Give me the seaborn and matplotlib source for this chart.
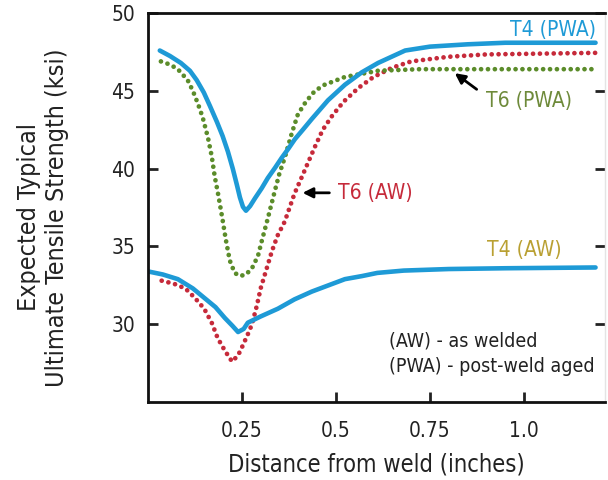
import matplotlib
matplotlib.use("Agg")
import matplotlib.pyplot as plt
from matplotlib import font_manager
import seaborn as sns

# values
t4_pwa_x = [0.032, 0.059, 0.088, 0.112, 0.130, 0.149, 0.165, 0.184, 0.199, 0.213, 0.226,
            0.237, 0.245, 0.253, 0.261, 0.272, 0.285, 0.303, 0.319, 0.338, 0.356, 0.374,
            0.391, 0.412, 0.436, 0.479, 0.524, 0.569, 0.612, 0.684, 0.75, 0.85, 0.95,
            1.05, 1.19]
t4_pwa_y = [47.6, 47.25, 46.8, 46.3, 45.7, 44.9, 44.05, 43.0, 42.1, 41.1, 40.0,
            38.95, 38.15, 37.55, 37.3, 37.6, 38.1, 38.75, 39.4, 40.05, 40.7, 41.3,
            41.9, 42.5, 43.2, 44.4, 45.4, 46.2, 46.8, 47.6, 47.85, 48.0, 48.1,
            48.1, 48.1]

t6_pwa_x = [0.035, 0.059, 0.080, 0.106, 0.120, 0.133, 0.146, 0.160, 0.170, 0.178, 0.186,
            0.194, 0.199, 0.207, 0.218, 0.231, 0.245, 0.261, 0.277, 0.293, 0.303, 0.319,
            0.338, 0.350, 0.364, 0.383, 0.399, 0.420, 0.444, 0.470, 0.524, 0.612, 0.723,
            1.19]
t6_pwa_y = [46.9, 46.7, 46.4, 45.7, 45.0, 44.2, 43.3, 42.0, 40.8, 39.5, 38.5,
            37.4, 36.7, 35.5, 34.1, 33.3, 33.1, 33.2, 33.6, 34.4, 35.35, 36.8,
            38.6, 39.7, 40.7, 42.3, 43.5, 44.3, 45.0, 45.4, 45.9, 46.3, 46.4,
            46.4]

t6_aw_x = [0.037, 0.07, 0.10, 0.125, 0.15, 0.17, 0.186, 0.205, 0.224, 0.24, 0.25, 0.265,
           0.277, 0.29, 0.30, 0.315, 0.33, 0.345, 0.364, 0.39, 0.41, 0.444, 0.465, 0.49,
           0.52, 0.56, 0.60, 0.65, 0.70, 0.80, 0.90, 1.19]
t6_aw_y = [32.8, 32.6, 32.3, 31.7, 31.0, 30.1, 29.1, 28.3, 27.6, 28.0, 28.5, 29.3,
           30.0, 31.2, 32.3, 33.5, 34.7, 35.7, 36.6, 38.4, 39.5, 41.4, 42.5, 43.4,
           44.3, 45.2, 45.9, 46.5, 46.9, 47.2, 47.35, 47.45]

t4_aw_x = [0.0, 0.04, 0.08, 0.12, 0.15, 0.18, 0.205, 0.225, 0.24, 0.255, 0.266, 0.30,
           0.346, 0.39, 0.436, 0.48, 0.524, 0.57, 0.61, 0.68, 0.80, 0.95, 1.19]
t4_aw_y = [33.4, 33.2, 32.9, 32.3, 31.7, 31.1, 30.4, 29.9, 29.5, 29.7, 30.1, 30.5,
           31.0, 31.6, 32.1, 32.5, 32.9, 33.1, 33.3, 33.45, 33.55, 33.6, 33.65]

x_ticks = [0.25, 0.5, 0.75, 1.0]
x_tick_labels = ["0.25", "0.5", "0.75", "1.0"]
y_ticks = [30, 35, 40, 45, 50]

blue = "#1e9ad6"
green = "#5b8c2a"
red = "#c62a3a"

sns.set_style("ticks")

# the reference uses a condensed sans; take one if the machine has it
narrow = [f for f in font_manager.fontManager.ttflist
          if ('Narrow' in f.name or 'Condensed' in f.name or f.stretch == 'condensed')
          and f.style == 'normal']
if narrow:
    plt.rcParams['font.family'] = [narrow[0].name, 'DejaVu Sans']
    plt.rcParams['font.stretch'] = narrow[0].stretch
else:
    plt.rcParams['font.family'] = ['Liberation Sans', 'DejaVu Sans']

fig = plt.figure(figsize=(6.08, 4.8), dpi=100)
ax = fig.add_axes([0.243, 0.1625, 0.752, 0.81])

dots = dict(lw=3.4, linestyle=(0, (0.01, 1.45)), dash_capstyle='round')

sns.lineplot(x=t6_aw_x, y=t6_aw_y, color=red, ax=ax, **dots)
sns.lineplot(x=t6_pwa_x, y=t6_pwa_y, color=green, ax=ax, **dots)
sns.lineplot(x=t4_aw_x, y=t4_aw_y, color=blue, lw=3.3, ax=ax)
sns.lineplot(x=t4_pwa_x, y=t4_pwa_y, color=blue, lw=3.3, ax=ax)

ax.set_xlim(0, 1.215)
ax.set_ylim(25, 50)
ax.set_xticks(x_ticks)
ax.set_xticklabels(x_tick_labels)
ax.set_yticks(y_ticks)
ax.tick_params(direction='in', length=7, width=2, labelsize=15, colors='#222222',
               pad=14, right=True)
ax.tick_params(axis='y', pad=9)
for side in ['left', 'bottom', 'top']:
    ax.spines[side].set_linewidth(2)
    ax.spines[side].set_color('#111111')
ax.spines['right'].set_color('#e4e4e4')
ax.spines['right'].set_linewidth(1)

ax.set_xlabel("Distance from weld (inches)", fontsize=17, color='#222222', labelpad=8)
ax.set_ylabel("Expected Typical\nUltimate Tensile Strength (ksi)", fontsize=18,
              color='#222222', linespacing=1.2)
ax.yaxis.set_label_coords(-0.172, 0.475)

ax.text(1.19, 48.25, "T4 (PWA)", color=blue, fontsize=15, ha='right', va='bottom')
ax.text(0.90, 44.35, "T6 (PWA)", color="#6e8a3a", fontsize=15, ha='left', va='center')
ax.annotate("", xy=(0.81, 46.25), xytext=(0.88, 45.0),
            arrowprops=dict(arrowstyle='-|>', color='black', lw=2, mutation_scale=15))
ax.text(0.505, 38.45, "T6 (AW)", color=red, fontsize=15, ha='left', va='center')
ax.annotate("", xy=(0.404, 38.45), xytext=(0.49, 38.45),
            arrowprops=dict(arrowstyle='-|>', color='black', lw=2, mutation_scale=15))
ax.text(1.0, 34.8, "T4 (AW)", color="#b9a032", fontsize=15, ha='center', va='center')
ax.text(0.64, 28.9, "(AW) - as welded", color='#222222', fontsize=14, ha='left', va='center')
ax.text(0.64, 27.3, "(PWA) - post-weld aged", color='#222222', fontsize=14, ha='left',
        va='center')

fig.savefig("out.png", dpi=100)
